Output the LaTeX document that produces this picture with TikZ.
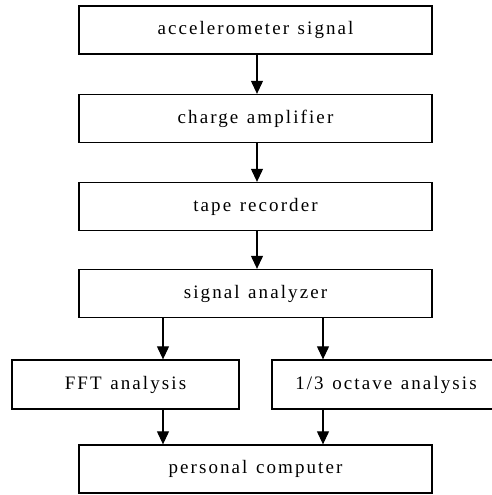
\documentclass[tikz,border=0pt]{standalone}
\usepackage{fontspec}
\setmainfont{Liberation Serif}[LetterSpace=11, WordSpace=1.25]
\usetikzlibrary{arrows.meta}
\tikzset{
  blk/.style={draw, line width=1.3pt, rectangle, inner sep=0pt, font=\fontsize{19}{22}\selectfont},
  wide/.style={blk, minimum width=353pt, minimum height=48pt},
  half/.style={blk, minimum width=227pt, minimum height=49pt},
  arr/.style={line width=1.1pt, -{Triangle[width=12pt,length=13pt]}}
}
\begin{document}
\begin{tikzpicture}[x=1pt,y=-1pt]
\useasboundingbox (0,0) rectangle (491,495);
\node[wide] (acc) at (255.5,30) {accelerometer signal};
\node[wide] (amp) at (255.5,118.5) {charge amplifier};
\node[wide] (tape) at (255.5,206.5) {tape recorder};
\node[wide] (sa) at (255.5,293.5) {signal analyzer};
\node[half] (fft) at (125.5,384.5) {FFT analysis};
\node[half, minimum width=228pt] (oct) at (386,384.5) {1/3 octave analysis};
\node[wide] (pc) at (255.5,469) {personal computer};
\draw[arr] ([xshift=1.5pt]acc.south) -- ([xshift=1.5pt]amp.north);
\draw[arr] ([xshift=1.5pt]amp.south) -- ([xshift=1.5pt]tape.north);
\draw[arr] ([xshift=1.5pt]tape.south) -- ([xshift=1.5pt]sa.north);
\draw[arr] ([xshift=-92.5pt]sa.south) -- ([xshift=37.5pt]fft.north);
\draw[arr] ([xshift=67.5pt]sa.south) -- ([xshift=-63pt]oct.north);
\draw[arr] ([xshift=37.5pt]fft.south) -- ([xshift=-92.5pt]pc.north);
\draw[arr] ([xshift=-63pt]oct.south) -- ([xshift=67.5pt]pc.north);
\end{tikzpicture}
\end{document}
